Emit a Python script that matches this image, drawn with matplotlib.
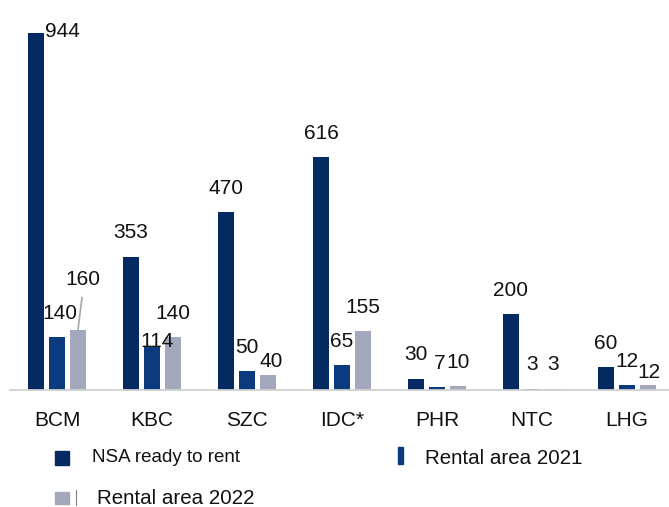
import matplotlib
matplotlib.use('Agg')
import matplotlib.pyplot as plt
import numpy as np
from matplotlib.patches import Rectangle
from matplotlib.lines import Line2D

plt.rcParams['font.family'] = ['Liberation Sans', 'DejaVu Sans']

companies = ['BCM', 'KBC', 'SZC', 'IDC*', 'PHR', 'NTC', 'LHG']
nsa_ready = [944, 353, 470, 616, 30, 200, 60]
rental_2021 = [140, 114, 50, 65, 7, 3, 12]
rental_2022 = [160, 140, 40, 155, 10, 3, 12]

series_names = ['NSA ready to rent', 'Rental area 2021', 'Rental area 2022']
colors = ['#052a62', '#0b3a7e', '#a3a8bc']

# label nudges in pixels (dx, dy above the bar top), default (0, 24)
label_shift = {
    (0, 0): (26, 2),
    (1, 0): (3, 24),
    (2, 0): (5, 50),
    (1, 1): (5, 5),
    (2, 2): (3, 13),
    (1, 4): (3, 24),
    (2, 6): (1, 13),
}

W, H = 669, 507
fig = plt.figure(figsize=(W / 100, H / 100), dpi=100)
ax = fig.add_axes([10 / W, 117 / H, 659 / W, 390 / H])

x = np.arange(len(companies))
bw = 16 / 95
step = 21 / 95
all_series = [nsa_ready, rental_2021, rental_2022]
for s, (vals, col) in enumerate(zip(all_series, colors)):
    xs = x + (s - 1) * step
    ax.bar(xs, vals, width=bw, color=col, label=series_names[s])
    for i, v in enumerate(vals):
        dx, dy = label_shift.get((s, i), (0, 24))
        ax.annotate(str(v), (xs[i], v), xytext=(dx, dy),
                    textcoords='offset pixels', ha='center', va='center',
                    fontsize=15, color='#111111')

# leader line for the BCM 2022 label
ax.annotate('', (x[0] + step, rental_2022[0]), xytext=(4, 32),
            textcoords='offset pixels',
            arrowprops=dict(arrowstyle='-', color='#a6a6a6', lw=1.2,
                            shrinkA=0, shrinkB=0))

ax.set_xlim(-47 / 95, 612 / 95)
ax.set_ylim(0, 390 / 0.378)
ax.set_xticks(x)
ax.set_xticklabels(companies, fontsize=15, color='#111111')
ax.tick_params(axis='x', length=0, pad=15)
ax.set_yticks([])
for side in ['top', 'right', 'left']:
    ax.spines[side].set_visible(False)
ax.spines['bottom'].set_color('#d0d0d0')
ax.spines['bottom'].set_linewidth(1.3)

# legend drawn by hand to follow the original layout
def px(xp, yp):
    return xp / W, 1 - yp / H

fig.patches.append(Rectangle(px(55, 465), 14 / W, 14 / H, color=colors[0],
                             transform=fig.transFigure, figure=fig))
fig.text(*px(92, 458), series_names[0], fontsize=13.5, va='center',
         color='#111111')
fig.patches.append(Rectangle(px(398, 464), 5 / W, 17 / H, color=colors[1],
                             transform=fig.transFigure, figure=fig))
fig.text(*px(425, 459), series_names[1], fontsize=14.8, va='center',
         color='#111111')
fig.patches.append(Rectangle(px(55, 504), 14 / W, 12 / H, color=colors[2],
                             transform=fig.transFigure, figure=fig))
fig.lines.append(Line2D([76 / W, 76 / W], [1 - 490 / H, 1 - 505 / H],
                        color='#808080', lw=0.8, transform=fig.transFigure))
fig.text(*px(97, 498), series_names[2], fontsize=14.8, va='center',
         color='#111111')

fig.savefig('out.png', dpi=100)
